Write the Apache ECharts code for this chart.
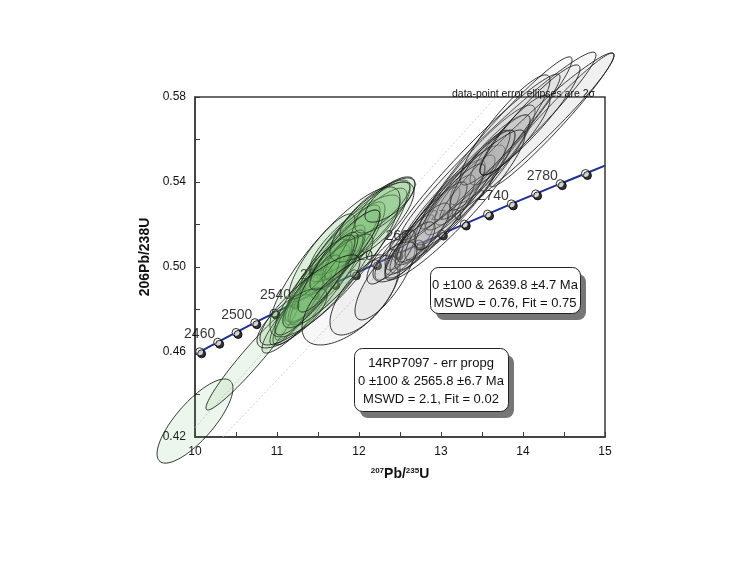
<!DOCTYPE html>
<html><head><meta charset="utf-8">
<script src="https://cdn.jsdelivr.net/npm/echarts@6/dist/echarts.min.js"></script>
<style>html,body{margin:0;background:#fff}#c{width:734px;height:576px}</style>
</head><body><div id="c"></div>
<script>
// Concordia markers (age in Ma, 207Pb/235U, 206Pb/238U)
const concAges = [2440,2460,2480,2500,2520,2540,2560,2580,2600,2620,2640,2660,2680,2700,2720,2740,2760,2780,2800];
const concX = [10.057,10.277,10.501,10.730,10.964,11.202,11.444,11.692,11.944,12.202,12.464,12.732,13.005,13.284,13.568,13.858,14.154,14.455,14.762];
const concY = [0.4601,0.4646,0.4692,0.4738,0.4783,0.4829,0.4875,0.4922,0.4968,0.5015,0.5061,0.5108,0.5155,0.5202,0.5249,0.5297,0.5344,0.5392,0.5440];
const concLabelAges = [2460,2500,2540,2580,2620,2660,2700,2740,2780];
const concStart = [10.0, 0.4589];
const concEnd = [15.0, 0.5477];
// Discordia reference lines (through origin)
const discordiaA = [[10.0, 0.4244], [13.67, 0.58]];
const discordiaB = [[10.34, 0.42], [14.28, 0.58]];
// Error ellipses: [x, y, 2σ x, 2σ y, rho]
const greenEllipses = [
  [10.000,0.4275,0.463,0.0198,0.78],
  [10.695,0.4576,0.561,0.0249,0.96],
  [11.244,0.4774,0.427,0.0179,0.88],
  [11.829,0.5042,0.756,0.0329,0.90],
  [11.707,0.5024,0.610,0.0282,0.89],
  [11.585,0.4962,0.488,0.0235,0.90],
  [11.768,0.5080,0.488,0.0212,0.88],
  [11.524,0.4915,0.366,0.0188,0.88],
  [11.890,0.5104,0.366,0.0165,0.85],
  [11.646,0.5009,0.305,0.0141,0.83],
  [11.402,0.4868,0.268,0.0132,0.83],
  [11.951,0.5151,0.549,0.0188,0.83],
  [12.012,0.5165,0.610,0.0235,0.87],
  [11.280,0.4821,0.305,0.0165,0.87],
  [11.500,0.4892,0.549,0.0259,0.91],
  [11.829,0.5056,0.244,0.0118,0.78],
  [11.732,0.5024,0.183,0.0104,0.75],
  [11.341,0.4845,0.427,0.0212,0.91],
  [12.195,0.5268,0.427,0.0141,0.80],
  [12.317,0.5292,0.366,0.0132,0.75],
  [11.620,0.4935,0.550,0.0220,0.86],
  [11.550,0.5050,0.400,0.0200,0.86],
  [11.707,0.5024,0.793,0.0353,0.84],
  [12.159,0.5212,0.512,0.0188,0.75],
  [11.183,0.4760,0.427,0.0141,0.75],
  [11.463,0.4915,0.488,0.0235,0.88],
  [11.622,0.4976,0.366,0.0188,0.86],
  [11.829,0.5080,0.427,0.0188,0.86],
  [11.402,0.4845,0.610,0.0212,0.85],
  [12.378,0.5315,0.305,0.0104,0.70]
];
const grayEllipses = [
  [11.890,0.4845,0.585,0.0212,0.62],
  [12.073,0.4868,0.427,0.0188,0.68],
  [12.317,0.4939,0.366,0.0188,0.78],
  [12.439,0.5056,0.244,0.0118,0.78],
  [12.500,0.5080,0.183,0.0094,0.68],
  [12.317,0.5024,0.220,0.0104,0.72],
  [12.622,0.5104,0.305,0.0141,0.82],
  [13.110,0.5292,0.671,0.0282,0.90],
  [12.988,0.5245,0.549,0.0259,0.90],
  [13.232,0.5339,0.427,0.0188,0.88],
  [12.866,0.5198,0.366,0.0179,0.88],
  [13.354,0.5409,0.549,0.0235,0.90],
  [13.598,0.5504,0.488,0.0212,0.88],
  [13.415,0.5433,0.732,0.0329,0.92],
  [13.720,0.5551,0.366,0.0165,0.86],
  [13.171,0.5315,0.244,0.0118,0.78],
  [14.354,0.5692,0.756,0.0315,0.97],
  [13.695,0.5569,1.195,0.0442,0.97],
  [13.671,0.5584,0.927,0.0405,0.965],
  [14.049,0.5616,1.061,0.0391,0.97],
  [13.415,0.5494,1.037,0.0414,0.965],
  [13.780,0.5645,0.549,0.0259,0.90],
  [12.744,0.5136,0.366,0.0165,0.85],
  [12.890,0.5212,0.427,0.0188,0.88],
  [13.049,0.5259,0.488,0.0226,0.90],
  [12.622,0.5080,0.305,0.0132,0.80],
  [13.293,0.5362,0.610,0.0282,0.92],
  [13.476,0.5456,0.366,0.0188,0.88],
  [13.902,0.5621,0.427,0.0188,0.88],
  [13.171,0.5292,0.854,0.0353,0.93],
  [12.439,0.5024,0.268,0.0094,0.60],
  [14.085,0.5692,0.610,0.0259,0.93]
];
const boxUpper = ['0 ±100 & 2639.8 ±4.7 Ma', 'MSWD = 0.76, Fit = 0.75'];
const boxLower = ['14RP7097 - err propg', '0 ±100 & 2565.8 ±6.7 Ma', 'MSWD = 2.1, Fit = 0.02'];

const FONT = 'Liberation Sans, Arial, sans-serif';

function ellipseRender(fill) {
  return function (params, api) {
    const cx = api.value(0), cy = api.value(1), ex = api.value(2), ey = api.value(3), r = api.value(4);
    const s = Math.sqrt(1 - r * r);
    const pts = [];
    for (let i = 0; i < 96; i++) {
      const t = i / 96 * 2 * Math.PI;
      pts.push(api.coord([cx + ex * Math.cos(t), cy + ey * (r * Math.cos(t) + s * Math.sin(t))]));
    }
    return { type: 'polygon', shape: { points: pts }, style: { fill: fill, stroke: '#141414', lineWidth: 0.85 } };
  };
}

const concLine = [concStart].concat(concX.map((x, i) => [x, concY[i]])).concat([concEnd]);
const concPts = concX.map((x, i) => ({
  value: [x, concY[i]],
  label: { show: concLabelAges.indexOf(concAges[i]) >= 0, formatter: String(concAges[i]) }
}));

function textEl(x, y, t) {
  return { type: 'text', x: x, y: y, z: 12, style: { text: t, fontSize: 13, fontFamily: FONT, fill: '#111', textAlign: 'center', textVerticalAlign: 'middle' } };
}
function boxEls(l, t, w, h) {
  return [
    { type: 'rect', left: l + 6, top: t + 7, z: 10, shape: { width: w, height: h, r: 8 }, style: { fill: '#767676' } },
    { type: 'rect', left: l, top: t, z: 11, shape: { width: w, height: h, r: 8 }, style: { fill: '#fff', stroke: '#222', lineWidth: 1 } }
  ];
}

const chart = echarts.init(document.getElementById('c'));
chart.setOption({
  animation: false,
  title: {
    text: 'data-point error ellipses are 2σ', right: 134, top: 84,
    textStyle: { fontSize: 10.5, fontWeight: 'normal', color: '#111', fontFamily: FONT }
  },
  grid: { left: 195, right: 129, top: 97, bottom: 139, show: true, borderColor: '#3a3a3a', borderWidth: 1.5, backgroundColor: 'transparent' },
  xAxis: {
    type: 'value', min: 10, max: 15, interval: 1,
    axisLine: { show: true, lineStyle: { color: '#3a3a3a', width: 1.5 } },
    axisTick: { show: true, inside: true, length: 5, lineStyle: { color: '#3a3a3a' } },
    minorTick: { show: true, splitNumber: 2, length: 5, lineStyle: { color: '#3a3a3a' } },
    splitLine: { show: false },
    axisLabel: { fontSize: 12, color: '#111', fontFamily: FONT, margin: 9 },
    name: '{s|207}{b|Pb/}{s|235}{b|U}', nameLocation: 'middle', nameGap: 30,
    nameTextStyle: { rich: {
      s: { fontSize: 8, fontWeight: 'bold', color: '#111', fontFamily: FONT, verticalAlign: 'top', padding: [0, 0, 6, 0] },
      b: { fontSize: 14, fontWeight: 'bold', color: '#111', fontFamily: FONT }
    } }
  },
  yAxis: {
    type: 'value', min: 0.42, max: 0.58, interval: 0.04,
    axisLine: { show: true, lineStyle: { color: '#3a3a3a', width: 1.5 } },
    axisTick: { show: true, inside: true, length: 5, lineStyle: { color: '#3a3a3a' } },
    minorTick: { show: true, splitNumber: 2, length: 5, lineStyle: { color: '#3a3a3a' } },
    splitLine: { show: false },
    axisLabel: { fontSize: 12, color: '#111', fontFamily: FONT, margin: 9, formatter: v => v.toFixed(2) },
    name: '206Pb/238U', nameLocation: 'middle', nameGap: 42, nameRotate: 90,
    nameTextStyle: { fontSize: 14, fontWeight: 'bold', color: '#111', fontFamily: FONT, padding: [0, 0, 0, 20] }
  },
  series: [
    { type: 'line', data: discordiaA, symbol: 'none', z: 1, lineStyle: { color: '#c4c4c4', width: 0.8, type: [2, 2] } },
    { type: 'line', data: discordiaB, symbol: 'none', z: 1, lineStyle: { color: '#c4c4c4', width: 0.8, type: [2, 2] } },
    { type: 'line', data: concLine, symbol: 'none', z: 2, lineStyle: { color: '#1f2f8f', width: 2 } },
    { type: 'scatter', data: concPts, symbol: 'circle', symbolSize: 8, z: 3,
      itemStyle: { color: '#fff', borderColor: '#000', borderWidth: 1, shadowColor: '#000', shadowOffsetX: 2, shadowOffsetY: 2, shadowBlur: 0 },
      label: { position: 'left', distance: 0, offset: [2, -8], fontSize: 14, color: '#000', fontFamily: FONT } },
    { type: 'custom', data: greenEllipses, renderItem: ellipseRender('rgba(105,185,100,0.12)'), z: 4, clip: false,
      encode: { x: 0, y: 1 } },
    { type: 'custom', data: grayEllipses, renderItem: ellipseRender('rgba(150,150,150,0.08)'), z: 4, clip: false,
      encode: { x: 0, y: 1 } }
  ],
  graphic: [].concat(
    boxEls(430, 267, 150, 46),
    [textEl(505, 285, boxUpper[0]), textEl(505, 303, boxUpper[1])],
    boxEls(354, 348, 154, 63),
    [textEl(431, 363, boxLower[0]), textEl(431, 381, boxLower[1]), textEl(431, 399, boxLower[2])]
  )
});
</script></body></html>
